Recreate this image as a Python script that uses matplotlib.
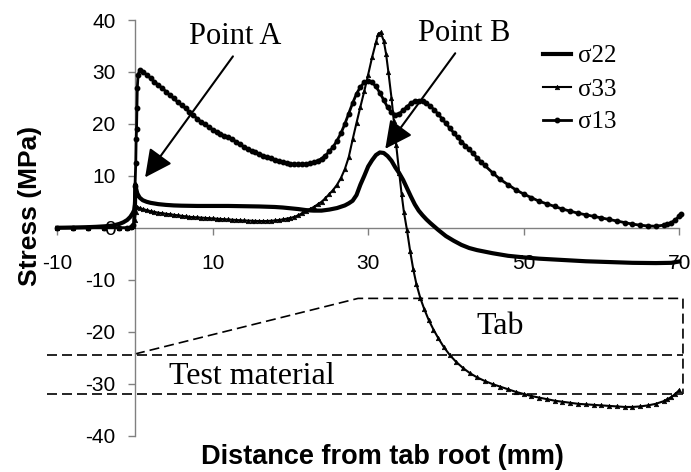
import matplotlib.pyplot as plt

plt.rcParams["axes.unicode_minus"] = False

# ---- sigma 22 (thick solid line) ----
s22_x = [-10, -9, -8, -7, -6, -5, -4, -3, -2.5, -2, -1.5, -1, -0.6, -0.3, -0.1, 0,
         0.05, 0.15, 0.3, 0.6, 1, 1.5, 2, 3, 4, 5, 6, 8, 10, 12, 14, 16, 18, 19, 20,
         21, 22, 23, 24, 25, 26, 27, 27.5, 28, 28.5, 29, 29.5, 30, 30.5, 31, 31.5,
         32, 32.5, 33, 33.5, 34, 34.5, 35, 35.5, 36, 36.5, 37, 37.5, 38, 39, 40,
         41, 42, 43, 44, 46, 48, 50, 52, 55, 58, 61, 64, 67, 69, 70]
s22_y = [0, 0.02, 0.05, 0.08, 0.12, 0.18, 0.27, 0.4, 0.55, 0.75, 1.05, 1.5, 2.1, 2.8, 3.4, 4.5,
         8.4, 7.5, 6.6, 5.8, 5.3, 5.0, 4.8, 4.55, 4.4, 4.3, 4.25, 4.2, 4.2, 4.2, 4.15, 4.1, 4.0, 3.9, 3.75,
         3.6, 3.4, 3.3, 3.3, 3.5, 3.8, 4.3, 4.7, 5.2, 6.3, 8.3, 10.0, 11.8, 13.0, 14.0, 14.5,
         14.4, 13.8, 12.9, 11.6, 10.5, 9.2, 7.6, 6.0, 4.5, 3.3, 2.4, 1.6, 0.9, -0.4, -1.6,
         -2.5, -3.3, -3.9, -4.3, -4.9, -5.4, -5.7, -5.95, -6.2, -6.45, -6.6, -6.75, -6.8, -6.75, -6.5]

# ---- sigma 33 (thin line, triangle markers) ----
s33_x = [-10, -8, -6, -4, -2, -1, -0.5, -0.2, 0, 0.1, 0.3, 0.6, 1, 1.5, 2, 2.5, 3, 3.5, 4, 4.5,
         5, 5.5, 6, 6.5, 7, 7.5, 8, 8.5, 9, 9.5, 10, 10.5, 11, 11.5, 12, 12.5, 13, 13.5, 14,
         14.5, 15, 15.5, 16, 16.5, 17, 17.5, 18, 18.5, 19, 19.5, 20, 20.5, 21, 21.5, 22,
         22.5, 23, 23.5, 24, 24.5, 25, 25.5, 26, 26.5, 27, 27.5, 28, 28.5, 29, 29.5, 30,
         30.5, 31, 31.3, 31.6, 32, 32.3, 32.6, 33, 33.3, 33.6, 34, 34.3, 34.6, 35, 35.4,
         35.8, 36.2, 36.7, 37.2, 37.8, 38.4, 39, 39.7, 40.5, 41.3, 42.2, 43.1, 44, 45, 46,
         47, 48, 49, 50, 51, 52, 53, 54, 55, 56, 57, 58, 59, 60, 61, 62, 63, 64, 65, 66, 67,
         68, 68.5, 69, 69.5, 70]
s33_y = [0, 0, 0, 0, 0, 0, 0.1, 0.3, 1.5, 3.0, 4.0, 3.8, 3.6, 3.4, 3.2, 3.05, 2.9, 2.8, 2.7, 2.6,
         2.5, 2.4, 2.3, 2.2, 2.1, 2.05, 2.0, 1.95, 1.9, 1.85, 1.8, 1.75, 1.7, 1.65, 1.6, 1.55, 1.5, 1.45, 1.4,
         1.38, 1.35, 1.32, 1.3, 1.3, 1.3, 1.35, 1.4, 1.5, 1.6, 1.75, 1.9, 2.1, 2.4, 2.8, 3.2,
         3.6, 4.0, 4.5, 5.0, 5.7, 6.5, 7.3, 8.3, 9.6, 11.3, 13.6, 17.0, 20.2, 23.3, 26.3, 29.5,
         32.8, 35.7, 37.3, 37.6, 36.0, 33.5, 30.0, 25.0, 20.5, 16.0, 10.5, 6.5, 3.0, -0.5, -4.5,
         -8.0, -10.8, -13.5, -15.6, -17.8, -19.6, -21.2, -22.9, -24.5, -25.8, -27.0, -28.0, -28.8, -29.5, -30.1,
         -30.6, -31.1, -31.6, -32.0, -32.4, -32.7, -33.0, -33.3, -33.5, -33.7, -33.9, -34.0, -34.1, -34.2, -34.3, -34.4, -34.5, -34.5, -34.4, -34.2, -33.9,
         -33.4, -33.0, -32.6, -32.0, -31.3]

# ---- sigma 13 (thin line, dot markers) ----
s13_x = [-10, -8, -6, -4, -2, -1, -0.5, -0.2, 0, 0.1, 0.15, 0.2, 0.25, 0.3, 0.4, 0.6, 1, 1.5, 2,
         2.5, 3, 3.5, 4, 4.5, 5, 5.5, 6, 6.5, 7, 7.5, 8, 8.5, 9, 9.5, 10, 10.5, 11, 11.5, 12,
         12.5, 13, 13.5, 14, 14.5, 15, 15.5, 16, 16.5, 17, 17.5, 18, 18.5, 19, 19.5, 20, 20.5,
         21, 21.5, 22, 22.5, 23, 23.5, 24, 24.5, 25, 25.5, 26, 26.5, 27, 27.5, 28, 28.5, 29,
         29.5, 30, 30.5, 31, 31.5, 32, 32.5, 33, 33.5, 34, 34.5, 35, 35.5, 36, 36.5, 37, 37.5,
         38, 38.5, 39, 39.5, 40, 40.5, 41, 41.5, 42, 42.5, 43, 43.5, 44, 44.5, 45, 46, 47, 48,
         49, 50, 51, 52, 53, 54, 55, 56, 57, 58, 59, 60, 61, 62, 63, 64, 65, 66, 67, 68, 68.5,
         69, 69.5, 70, 70.3]
s13_y = [0, 0, 0, 0, 0, 0, 0.1, 0.5, 8, 12.5, 17, 19, 23, 27, 29.5, 30.3, 30.0, 29.5, 28.8,
         28.1, 27.5, 26.9, 26.2, 25.5, 24.9, 24.2, 23.6, 23.0, 22.3, 21.7, 21.0, 20.4, 19.9, 19.4, 18.9, 18.5, 18.1, 17.7, 17.4,
         17.0, 16.6, 16.1, 15.6, 15.2, 14.8, 14.5, 14.2, 13.9, 13.6, 13.4, 13.1, 12.9, 12.7, 12.5, 12.3, 12.2,
         12.2, 12.2, 12.3, 12.4, 12.6, 12.9, 13.3, 13.9, 14.7, 15.6, 16.8, 18.2, 20.0, 22.0, 24.0, 25.8, 27.1,
         28.0, 28.3, 28.0, 27.2, 26.0, 24.6, 23.2, 22.2, 21.8, 22.0, 22.6, 23.3, 24.0, 24.4, 24.5, 24.4, 24.0,
         23.4, 22.7, 21.9, 21.0, 20.1, 19.2, 18.3, 17.4, 16.6, 15.8, 15.1, 14.3, 13.5, 12.7, 12.0, 10.6, 9.3, 8.3,
         7.3, 6.5, 5.8, 5.1, 4.6, 4.1, 3.6, 3.2, 2.8, 2.5, 2.2, 1.9, 1.6, 1.3, 1.0, 0.7, 0.5, 0.35, 0.3, 0.5, 0.7,
         1.0, 1.5, 2.2, 2.7]

# ---- specimen sketch (dashed outline) ----
tab_x = [0, 28.7, 70.5, 70.5]
tab_y = [-24.3, -13.6, -13.6, -32]
mid_x = [-11.3, 70.5]
mid_y = [-24.5, -24.5]
bot_x = [-11.3, 70.5]
bot_y = [-32, -32]

serif = "Liberation Serif"
sans = "Liberation Sans"
gray = "#808080"

fig = plt.figure(figsize=(6.91, 4.72), dpi=100)
ax = fig.add_axes([0.066, 0.0773, 0.928, 0.8803])
ax.set_xlim(-11.5, 71)
ax.set_ylim(-40, 40)
ax.set_axisbelow(True)

ax.plot(s22_x, s22_y, color="black", lw=3, zorder=3, label="σ22")
ax.plot(s33_x, s33_y, color="black", lw=1.5, marker="^", ms=3.2, mfc="black",
        mec="black", mew=0.5, zorder=3, label="σ33")
ax.plot(s13_x, s13_y, color="black", lw=2.0, marker="o", ms=3.2, zorder=3, label="σ13",
        clip_on=False)

dash = dict(color="black", lw=1.2, dashes=(6, 3), clip_on=False, zorder=2)
ax.plot(tab_x, tab_y, **dash)
ax.plot(mid_x, mid_y, **dash)
ax.plot(bot_x, bot_y, **dash)

# spines through the origin
for s in ["top", "right"]:
    ax.spines[s].set_visible(False)
ax.spines["left"].set_position(("data", 0))
ax.spines["bottom"].set_position(("data", 0))
ax.spines["bottom"].set_bounds(-10, 70)
for s in ["left", "bottom"]:
    ax.spines[s].set_color(gray)
    ax.spines[s].set_linewidth(1)

ax.set_xticks([-10, 10, 30, 50, 70])
ax.set_yticks(range(-40, 41, 10))
ax.tick_params(direction="out", length=5, width=1, color=gray, labelsize=15)
ax.tick_params(axis="x", pad=14)
ax.tick_params(axis="y", pad=9)
for lab in ax.get_xticklabels() + ax.get_yticklabels():
    lab.set_family(sans)

fig.text(30 / 691, 1 - 206 / 472, "Stress (MPa)", rotation=90, ha="center", va="center",
         fontsize=19, fontweight="bold", family=sans)
fig.text(382 / 691, 1 - 457 / 472, "Distance from tab root (mm)", ha="center", va="center",
         fontsize=19.5, fontweight="bold", family=sans)

# annotations
arrow = dict(arrowstyle="-|>,head_length=0.6,head_width=0.3", color="black", lw=1.5,
             mutation_scale=28, shrinkA=0, shrinkB=0)
ax.annotate("", xy=(1.3, 9.7), xytext=(12.6, 33), arrowprops=arrow)
ax.annotate("", xy=(32.2, 15.2), xytext=(41.2, 33.6), arrowprops=arrow)
ax.text(12.9, 36.9, "Point A", ha="center", va="center", fontsize=22, family=serif)
ax.text(42.4, 37.4, "Point B", ha="center", va="center", fontsize=22, family=serif, clip_on=False)
ax.text(47, -19, "Tab", ha="center", va="center", fontsize=23, family=serif)
ax.text(15, -28.7, "Test material", ha="center", va="center", fontsize=23, family=serif)

ax.legend(loc="upper left", bbox_to_anchor=(543 / 691, 1 - 45 / 472),
          bbox_transform=fig.transFigure, frameon=False, borderpad=0, borderaxespad=0,
          handlelength=1.1, handletextpad=0.3, labelspacing=0.42,
          prop={"family": serif, "size": 18})

fig.savefig("out.png", dpi=100)
